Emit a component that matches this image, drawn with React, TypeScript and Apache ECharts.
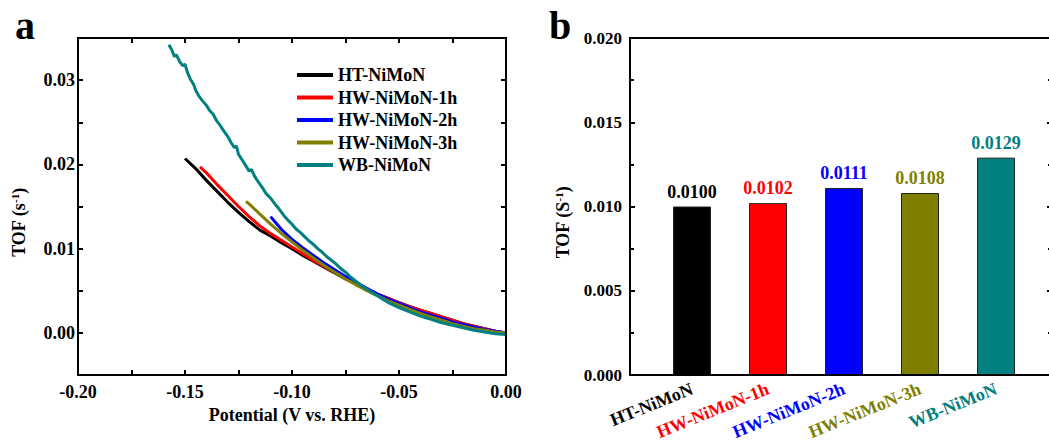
import React, { useEffect, useRef } from 'react';
import * as echarts from 'echarts';

const FONT = "'Liberation Serif', 'Times New Roman', serif";

const SERIES_NAMES = ['HT-NiMoN', 'HW-NiMoN-1h', 'HW-NiMoN-2h', 'HW-NiMoN-3h', 'WB-NiMoN'];
const SERIES_COLORS = ['#000000', '#ff0000', '#0000ff', '#808000', '#008080'];

const HT_NIMON: [number, number][] = [
  [-0.150, 0.0207], [-0.145, 0.0195], [-0.140, 0.0181], [-0.135, 0.0168], [-0.130, 0.0155],
  [-0.125, 0.0143], [-0.120, 0.0132], [-0.115, 0.0122], [-0.110, 0.0115], [-0.105, 0.0107],
  [-0.100, 0.0100], [-0.095, 0.0092], [-0.090, 0.0085], [-0.085, 0.0078], [-0.080, 0.0071],
  [-0.075, 0.0064], [-0.070, 0.0058], [-0.065, 0.0052], [-0.060, 0.0046], [-0.055, 0.0041],
  [-0.050, 0.0036], [-0.045, 0.0031], [-0.040, 0.0027], [-0.035, 0.0023], [-0.030, 0.0019],
  [-0.025, 0.0015], [-0.020, 0.0011], [-0.015, 0.0008], [-0.010, 0.0005], [-0.005, 0.0002],
  [0.000, 0.0000],
];

const HW_NIMON_1H: [number, number][] = [
  [-0.143, 0.0197], [-0.140, 0.0190], [-0.135, 0.0176], [-0.130, 0.0163], [-0.125, 0.0150],
  [-0.120, 0.0138], [-0.115, 0.0127], [-0.110, 0.0118], [-0.105, 0.0110], [-0.100, 0.0102],
  [-0.095, 0.0094], [-0.090, 0.0086], [-0.085, 0.0079], [-0.080, 0.0072], [-0.075, 0.0065],
  [-0.070, 0.0058], [-0.065, 0.0052], [-0.060, 0.0046], [-0.055, 0.0041], [-0.050, 0.0036],
  [-0.045, 0.0031], [-0.040, 0.0027], [-0.035, 0.0023], [-0.030, 0.0019], [-0.025, 0.0015],
  [-0.020, 0.0011], [-0.015, 0.0008], [-0.010, 0.0005], [-0.005, 0.0002], [0.000, 0.0000],
];

const HW_NIMON_2H: [number, number][] = [
  [-0.110, 0.0138], [-0.105, 0.0123], [-0.100, 0.0111], [-0.095, 0.0101], [-0.090, 0.0092],
  [-0.085, 0.0083], [-0.080, 0.0075], [-0.075, 0.0067], [-0.070, 0.0060], [-0.065, 0.0053],
  [-0.060, 0.0046], [-0.055, 0.0040], [-0.050, 0.0035], [-0.045, 0.0030], [-0.040, 0.0025],
  [-0.035, 0.0021], [-0.030, 0.0017], [-0.025, 0.0013], [-0.020, 0.0010], [-0.015, 0.0007],
  [-0.010, 0.0004], [-0.005, 0.0002], [0.000, 0.0000],
];

const HW_NIMON_3H: [number, number][] = [
  [-0.1215, 0.0156], [-0.120, 0.0153], [-0.115, 0.0141], [-0.110, 0.0129], [-0.105, 0.0118],
  [-0.100, 0.0108], [-0.095, 0.0098], [-0.090, 0.0089], [-0.085, 0.0080], [-0.080, 0.0072],
  [-0.075, 0.0064], [-0.070, 0.0057], [-0.065, 0.0050], [-0.060, 0.0044], [-0.055, 0.0038],
  [-0.050, 0.0033], [-0.045, 0.0028], [-0.040, 0.0023], [-0.035, 0.0019], [-0.030, 0.0015],
  [-0.025, 0.0011], [-0.020, 0.0008], [-0.015, 0.0005], [-0.010, 0.0003], [-0.005, 0.0001],
  [0.000, 0.0000],
];

const WB_NIMON: [number, number][] = [
  [-0.1575, 0.0342], [-0.1560, 0.0335], [-0.1550, 0.0328], [-0.1540, 0.0330], [-0.1525, 0.0322],
  [-0.1510, 0.0317], [-0.1500, 0.0319], [-0.1490, 0.0310], [-0.1475, 0.0301], [-0.1460, 0.0295],
  [-0.1450, 0.0288], [-0.1435, 0.0281], [-0.1420, 0.0276], [-0.1400, 0.0270], [-0.1385, 0.0264],
  [-0.1370, 0.0260], [-0.1350, 0.0251], [-0.1335, 0.0246], [-0.1320, 0.0240], [-0.1300, 0.0233],
  [-0.1285, 0.0226], [-0.1270, 0.0220], [-0.1260, 0.0222], [-0.1250, 0.0212], [-0.1235, 0.0206],
  [-0.1220, 0.0200], [-0.1200, 0.0192], [-0.1190, 0.0194], [-0.1175, 0.0186], [-0.1160, 0.0180],
  [-0.1140, 0.0173], [-0.1120, 0.0165], [-0.1100, 0.0160], [-0.1080, 0.0153], [-0.1060, 0.0147],
  [-0.1040, 0.0140], [-0.1020, 0.0134], [-0.1000, 0.0129], [-0.0980, 0.0123], [-0.0960, 0.0119],
  [-0.0940, 0.0114], [-0.0920, 0.0109], [-0.0900, 0.0105], [-0.0880, 0.0100], [-0.0860, 0.0096],
  [-0.0840, 0.0091], [-0.0820, 0.0087], [-0.0800, 0.0083], [-0.0775, 0.0077], [-0.0750, 0.0072],
  [-0.0725, 0.0066], [-0.0700, 0.0061], [-0.0675, 0.0056], [-0.0650, 0.0052], [-0.0625, 0.0048],
  [-0.0600, 0.0044], [-0.0575, 0.0040], [-0.0550, 0.0036], [-0.0525, 0.0033], [-0.0500, 0.0030],
  [-0.0450, 0.0025], [-0.0400, 0.0020], [-0.0350, 0.0016], [-0.0300, 0.0012], [-0.0250, 0.0009],
  [-0.0200, 0.0006], [-0.0150, 0.0003], [-0.0100, 0.0001], [-0.0050, -0.0001], [0.0000, -0.0002],
];

const LINE_DATA = [HT_NIMON, HW_NIMON_1H, HW_NIMON_2H, HW_NIMON_3H, WB_NIMON];

const BAR_CATEGORIES = ['HT-NiMoN', 'HW-NiMoN-1h', 'HW-NiMoN-2h', 'HW-NiMoN-3h', 'WB-NiMoN'];
const BAR_VALUES = [0.0100, 0.0102, 0.0111, 0.0108, 0.0129];
const BAR_COLORS = ['#000000', '#ff0000', '#0000ff', '#7f7f00', '#008080'];

const A_X_RANGE: [number, number] = [-0.2, 0];
const A_Y_RANGE: [number, number] = [-0.005, 0.035];
const B_Y_RANGE: [number, number] = [0, 0.02];

// plot-box layout (pixels)
const BOX_A = { left: 78, top: 38, width: 428, height: 337 };
const BOX_B = { left: 630, top: 38, width: 422, height: 337 };
const BOX_BARS = { left: 654, top: 38, width: 380, height: 337 };

function buildOption(): any {
  const bold = () => ({ fontFamily: FONT, fontWeight: 'bold' as const, color: '#000' });
  const axisLine = () => ({ show: true, onZero: false, lineStyle: { color: '#000', width: 2 } });
  const tickStyle = () => ({ color: '#000', width: 2 });
  const yFmtA = (v: number) => {
    const k = Math.round(v / 0.01);
    if (Math.abs(v - k * 0.01) < 1e-9 && k >= 0 && k <= 3) return (k * 0.01).toFixed(2);
    return '';
  };
  return {
    animation: false,
    textStyle: { fontFamily: FONT },
    graphic: [
      { type: 'text', x: 15, y: 25, style: { text: 'a', fontSize: 40, fontWeight: 'bold', fontFamily: FONT, fill: '#000', verticalAlign: 'middle' } },
      { type: 'text', x: 549, y: 25, style: { text: 'b', fontSize: 40, fontWeight: 'bold', fontFamily: FONT, fill: '#000', verticalAlign: 'middle' } },
    ],
    legend: {
      data: SERIES_NAMES,
      orient: 'vertical',
      left: 297,
      top: 66,
      padding: 0,
      icon: 'rect',
      itemWidth: 36,
      itemHeight: 4,
      itemGap: 4.5,
      selectedMode: false,
      textStyle: { ...bold(), fontSize: 18, lineHeight: 18 },
    },
    grid: [
      { ...BOX_A, outerBoundsMode: 'none', containLabel: false },
      { ...BOX_B, outerBoundsMode: 'none', containLabel: false },
      { ...BOX_BARS, outerBoundsMode: 'none', containLabel: false },
    ],
    xAxis: [
      {
        gridIndex: 0, type: 'value', min: A_X_RANGE[0], max: A_X_RANGE[1], interval: 0.05, position: 'bottom',
        axisLine: axisLine(), axisTick: { inside: true, length: 5, lineStyle: tickStyle() },
        minorTick: { show: true, splitNumber: 2, length: 5, lineStyle: tickStyle() },
        splitLine: { show: false }, minorSplitLine: { show: false },
        axisLabel: { ...bold(), fontSize: 18, margin: 8, showMinLabel: true, showMaxLabel: true, formatter: (v: number) => v.toFixed(2) },
        name: 'Potential (V vs. RHE)', nameLocation: 'middle', nameGap: 31,
        nameTextStyle: { ...bold(), fontSize: 18 },
      },
      {
        gridIndex: 0, type: 'value', min: A_X_RANGE[0], max: A_X_RANGE[1], interval: 0.05, position: 'top',
        axisLine: axisLine(), axisTick: { inside: true, length: 5, lineStyle: tickStyle() },
        minorTick: { show: true, splitNumber: 2, length: 5, lineStyle: tickStyle() },
        splitLine: { show: false }, axisLabel: { show: false },
      },
      {
        gridIndex: 1, type: 'value', min: 0, max: 1, position: 'bottom',
        axisLine: axisLine(), axisTick: { show: false }, axisLabel: { show: false }, splitLine: { show: false },
      },
      {
        gridIndex: 1, type: 'value', min: 0, max: 1, position: 'top',
        axisLine: axisLine(), axisTick: { show: false }, axisLabel: { show: false }, splitLine: { show: false },
      },
      {
        gridIndex: 2, type: 'category', data: BAR_CATEGORIES,
        axisLine: { show: false }, axisTick: { show: false },
        axisLabel: {
          ...bold(), fontSize: 18, interval: 0, rotate: 22, margin: 13,
          color: (_v: any, i: number) => BAR_COLORS[i],
        },
      },
    ],
    yAxis: [
      {
        gridIndex: 0, type: 'value', min: A_Y_RANGE[0], max: A_Y_RANGE[1], interval: 0.005, position: 'left',
        axisLine: axisLine(), axisTick: { inside: true, length: 5, lineStyle: tickStyle() },
        splitLine: { show: false },
        axisLabel: { ...bold(), fontSize: 18, margin: 3, formatter: yFmtA },
        name: 'TOF (s{sup|-1})', nameLocation: 'middle', nameGap: 49,
        nameTextStyle: {
          ...bold(), fontSize: 18, padding: [0, 32, 0, 0],
          rich: { sup: { ...bold(), fontSize: 11, padding: [0, 0, 9, 0] } },
        },
      },
      {
        gridIndex: 0, type: 'value', min: A_Y_RANGE[0], max: A_Y_RANGE[1], interval: 0.005, position: 'right',
        axisLine: axisLine(), axisTick: { inside: true, length: 5, lineStyle: tickStyle() },
        splitLine: { show: false }, axisLabel: { show: false },
      },
      {
        gridIndex: 1, type: 'value', min: B_Y_RANGE[0], max: B_Y_RANGE[1], interval: 0.005, position: 'left',
        axisLine: axisLine(), axisTick: { inside: true, length: 5, lineStyle: tickStyle() },
        minorTick: { show: true, splitNumber: 2, length: 4, lineStyle: tickStyle() },
        splitLine: { show: false }, minorSplitLine: { show: false },
        axisLabel: { ...bold(), fontSize: 17, margin: 8, formatter: (v: number) => v.toFixed(3) },
        name: 'TOF (S{sup|-1})', nameLocation: 'middle', nameGap: 57,
        nameTextStyle: {
          ...bold(), fontSize: 18, padding: [0, 32, 0, 0],
          rich: { sup: { ...bold(), fontSize: 11, padding: [0, 0, 9, 0] } },
        },
      },
      {
        gridIndex: 1, type: 'value', min: B_Y_RANGE[0], max: B_Y_RANGE[1], interval: 0.005, position: 'right',
        axisLine: axisLine(), axisTick: { inside: true, length: 5, lineStyle: tickStyle() },
        minorTick: { show: true, splitNumber: 2, length: 4, lineStyle: tickStyle() },
        splitLine: { show: false }, axisLabel: { show: false },
      },
      { gridIndex: 2, type: 'value', min: B_Y_RANGE[0], max: B_Y_RANGE[1], show: false },
    ],
    series: [
      ...SERIES_NAMES.map((name, i) => ({
        name, type: 'line', xAxisIndex: 0, yAxisIndex: 0,
        data: LINE_DATA[i].map((p) => [p[0], p[1]]), showSymbol: false, symbol: 'none',
        lineStyle: { color: SERIES_COLORS[i], width: 3 },
        itemStyle: { color: SERIES_COLORS[i] },
      })),
      {
        type: 'bar', xAxisIndex: 4, yAxisIndex: 4, barWidth: 38,
        data: BAR_VALUES.map((v, i) => ({
          value: v,
          itemStyle: { color: BAR_COLORS[i], borderColor: '#222', borderWidth: 1 },
          label: { color: BAR_COLORS[i] },
        })),
        label: {
          show: true, position: 'top', distance: 6, ...bold(), fontSize: 18,
          formatter: (p: any) => Number(p.value).toFixed(4),
        },
      },
    ],
  };
}

export default function App() {
  const ref = useRef<HTMLDivElement>(null);
  useEffect(() => {
    if (!ref.current) return;
    const chart = echarts.init(ref.current, null, { renderer: 'svg' });
    chart.setOption(buildOption());
    return () => chart.dispose();
  }, []);
  return (
    <div style={{ position: 'fixed', left: 0, top: 0, width: 1049, height: 441, background: '#fff', overflow: 'hidden' }}>
      <div ref={ref} style={{ position: 'absolute', left: 0, top: 0, width: 1049, height: 441 }} />
      <svg
        width={1049}
        height={441}
        style={{ position: 'absolute', left: 0, top: 0, pointerEvents: 'none' }}
      >
        {[BOX_A, BOX_B].map((b, i) => (
          <rect key={i} x={b.left} y={b.top} width={b.width} height={b.height} fill="none" stroke="#000" strokeWidth={2} />
        ))}
      </svg>
    </div>
  );
}
